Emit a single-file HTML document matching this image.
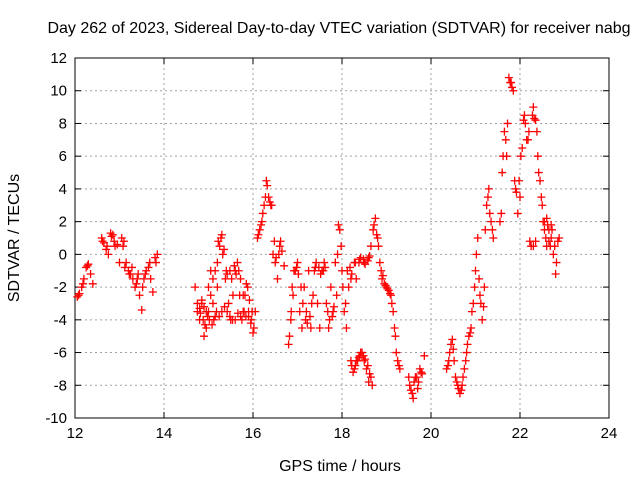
<!DOCTYPE html>
<html><head><meta charset="utf-8"><style>
body{margin:0;background:#fff;}
svg{display:block;font-family:"Liberation Sans",sans-serif;}
</style></head><body>
<svg id="chart" width="640" height="480" viewBox="0 0 640 480"></svg>
<script>
const xTicks=[12,14,16,18,20,22,24];
const yTicks=[12,10,8,6,4,2,0,-2,-4,-6,-8,-10];
const times=[12.05,12.1,12.15,12.2,12.25,12.3,12.35,12.4,12.6,12.65,12.7,12.75,12.8,12.85,12.9,12.95,13.0,13.05,13.1,13.15,13.2,13.25,13.3,13.35,13.4,13.45,13.5,13.55,13.6,13.65,13.7,13.75,13.8,13.85,
14.7,14.75,14.8,14.85,14.9,14.95,15.0,15.05,15.1,15.15,15.2,15.25,15.3,15.35,15.4,15.45,15.5,15.55,15.6,15.65,15.7,15.75,15.8,15.85,15.9,15.95,16.0,16.05,16.1,16.15,16.2,16.25,16.3,16.35,16.4,16.45,16.5,16.55,16.6,16.65,16.7,
16.8,16.85,16.9,16.95,17.0,17.05,17.1,17.15,17.2,17.25,17.3,17.35,17.4,17.45,17.5,17.55,17.6,17.65,17.7,17.75,17.8,17.85,17.9,17.95,18.0,18.05,18.1,18.15,18.2,18.25,18.3,18.35,18.4,18.45,18.5,18.55,18.6,18.65,
18.2,18.3,18.4,18.5,18.6,18.65,18.7,18.75,18.8,18.85,18.9,18.95,19.0,19.05,19.1,19.15,19.2,19.25,19.3,
19.5,19.55,19.6,19.65,19.7,19.75,19.8,19.85,
20.35,20.4,20.45,20.5,20.55,20.6,20.65,20.7,20.75,20.8,20.85,20.9,20.95,21.0,21.05,21.1,21.15,21.2,21.25,21.3,21.35,21.4,
21.55,21.6,21.65,21.7,21.75,21.8,21.85,21.9,21.95,22.0,22.05,22.1,22.15,22.2,22.25,22.3,22.35,22.4,22.45,22.5,22.55,22.6,22.65,22.7,22.75,22.8,22.85];
const values=[-2.6,-2.4,-2.0,-1.5,-0.8,-0.6,-1.2,-1.8,1.0,0.7,0.3,0.0,1.3,1.2,0.5,0.6,-0.5,1.0,0.8,-0.5,-1.0,-1.2,-1.5,-2.0,-1.5,-2.5,-3.4,-1.5,-1.0,-0.8,-1.5,-2.3,-0.2,0.0,
-2.0,-3.5,-4.0,-3.0,-5.0,-3.5,-2.0,-1.0,-3.0,-3.8,-2.0,0.5,1.2,0.3,-1.0,-3.0,-4.0,-2.5,-1.0,-0.5,-2.5,-4.0,-3.5,-1.8,-3.8,-4.2,-4.8,-3.5,1.0,1.5,2.0,3.0,4.5,3.5,3.0,0.0,-0.5,-1.5,0.5,0.2,-0.7,
-5.5,-4.0,-2.5,-1.0,-0.5,-3.5,-4.5,-2.0,-3.5,-1.0,-4.5,-2.5,-0.8,-3.0,-4.5,-1.0,-0.5,-3.0,-4.5,-2.0,-3.5,-0.5,0.0,1.5,-1.0,-3.5,-4.5,-2.0,-6.5,-7.2,-6.8,-6.5,-6.2,-6.0,-6.5,-7.0,-7.8,-7.5,
-1.5,-0.5,-0.3,-0.5,-0.2,0.5,1.5,2.2,1.0,-0.5,-1.5,-1.8,-2.0,-2.2,-2.5,-3.5,-5.0,-6.5,-7.0,
-7.5,-8.3,-8.8,-7.5,-8.2,-7.0,-7.3,-6.2,
-7.0,-6.5,-5.5,-5.8,-7.5,-8.0,-8.5,-8.0,-7.0,-6.0,-5.0,-4.5,-3.0,-1.0,1.0,-2.5,-4.0,-2.0,3.0,4.0,2.0,1.0,
2.0,5.0,7.5,6.0,10.8,10.5,10.0,4.0,2.5,3.5,6.5,8.5,7.0,7.5,0.5,9.0,8.2,6.0,4.5,3.0,2.0,0.5,1.5,1.0,0.0,-1.2,0.8];
const times2=[12.08,12.18,12.28,12.62,12.72,12.82,12.88,13.08,13.12,13.22,13.28,13.38,13.42,13.52,13.58,13.68,13.82,
14.75,14.8,14.85,14.9,14.95,15.0,15.05,15.1,15.15,15.2,15.22,15.28,15.32,15.38,15.42,15.48,15.52,15.58,15.62,15.68,15.72,15.78,15.82,15.88,15.92,15.98,
14.82,14.88,14.92,14.98,15.02,15.08,15.12,15.18,15.24,15.3,15.36,15.42,15.48,15.54,15.6,15.66,15.72,15.78,15.84,15.9,15.96,16.02,
16.12,16.18,16.22,16.28,16.32,16.38,16.42,16.48,16.52,16.58,16.62,
16.82,16.86,16.88,16.92,16.98,17.02,17.08,17.12,17.18,17.22,17.28,17.32,17.38,17.42,17.48,17.52,17.58,17.62,17.68,17.72,17.78,17.82,17.88,17.92,17.98,18.02,18.08,18.12,18.18,18.22,18.28,18.32,18.38,18.42,18.48,18.52,18.58,18.62,
18.22,18.28,18.32,18.38,18.42,18.48,18.52,18.58,18.62,18.68,
18.72,18.78,18.82,18.88,18.92,18.98,19.02,19.08,19.12,19.18,19.22,19.28,
19.52,19.58,19.62,19.68,19.72,19.78,
20.38,20.42,20.48,20.52,20.58,20.62,20.68,20.72,20.78,20.82,20.88,20.92,20.98,21.02,21.08,21.12,21.18,21.22,21.28,21.32,21.38,
21.58,21.62,21.68,21.72,21.78,21.82,21.88,21.92,21.98,22.02,22.08,22.12,22.18,22.22,22.28,22.32,22.38,22.42,22.48,22.52,22.58,22.62,22.68,22.72,22.78,22.82,22.88,22.55,22.6,22.65,22.7,22.3,22.35];
const values2=[-2.5,-1.8,-0.7,0.8,0.5,1.1,0.8,0.5,-0.8,-1.2,-0.8,-1.8,-1.2,-2.0,-1.2,-0.5,-0.5,
-3.0,-3.3,-2.8,-3.2,-4.5,-3.5,-2.5,-1.5,-1.0,-0.5,0.8,1.0,0.0,-1.5,-1.2,-1.0,-1.5,-0.7,-1.2,-1.0,-1.5,-2.5,-2.5,-2.0,-2.8,-3.5,
-3.6,-4.0,-4.3,-3.8,-4.0,-4.3,-4.0,-3.5,-3.8,-3.5,-3.2,-3.5,-3.8,-4.0,-4.0,-3.6,-3.8,-3.5,-3.8,-3.5,-4.0,-4.5,
1.2,1.8,2.5,3.5,4.2,3.2,3.0,0.8,-0.2,0.0,0.8,
-5.0,-3.5,-2.0,-1.0,-0.8,-1.2,-2.0,-3.0,-4.0,-4.2,-3.8,-3.0,-1.0,-0.5,-0.8,-1.2,-1.0,-0.8,-3.5,-4.0,-3.8,-3.2,-2.5,1.8,0.5,-2.0,-3.0,-1.0,-0.8,-1.2,-0.5,-1.5,-0.5,-0.2,-0.3,-0.6,-0.4,-0.1,
-6.8,-7.0,-6.5,-6.3,-6.0,-6.2,-6.4,-6.8,-7.3,-8.0,
1.8,1.2,0.5,-1.0,-1.3,-1.9,-2.1,-2.4,-3.0,-4.5,-6.0,-6.8,
-8.0,-8.5,-7.8,-7.5,-7.8,-7.2,
-6.8,-6.0,-5.2,-6.5,-7.8,-8.2,-8.3,-7.5,-6.5,-5.5,-4.8,-3.5,-2.0,0.0,-1.5,-3.0,-3.2,1.5,3.5,2.5,1.5,
2.5,6.0,7.0,8.0,10.5,10.2,4.5,3.8,4.5,6.0,8.2,8.0,7.0,0.8,8.5,8.3,7.5,5.0,3.5,2.0,1.0,1.8,0.5,1.5,0.5,-0.5,1.0,1.5,2.2,0.8,1.8,0.5,0.8];

const L=75,R=609,T=58,B=418;
const sx=v=>L+(v-12)/(24-12)*(R-L);
const sy=v=>T+(12-v)/(12-(-10))*(B-T);
const svg=document.getElementById('chart');
const NS='http://www.w3.org/2000/svg';
function mk(tag,attrs,parent){const e=document.createElementNS(NS,tag);for(const k in attrs)e.setAttribute(k,attrs[k]);(parent||svg).appendChild(e);return e;}

xTicks.forEach(t=>{
  const x=sx(t);
  if(t>12&&t<24){const g=mk('line',{x1:x,x2:x,y1:T,y2:B,stroke:'#a0a0a0','stroke-dasharray':'2,3','stroke-width':1});
  
  }
  mk('line',{x1:x,x2:x,y1:B,y2:B-6,stroke:'#000'});
  mk('line',{x1:x,x2:x,y1:T,y2:T+6,stroke:'#000'});
  const lb=mk('text',{x:x,y:B+20,'text-anchor':'middle','font-size':15});
  lb.textContent=t;
  
  
});
yTicks.forEach(t=>{
  const y=sy(t);
  if(t>-10&&t<12){const g=mk('line',{x1:L,x2:R,y1:y,y2:y,stroke:'#a0a0a0','stroke-dasharray':'2,3','stroke-width':1});
  
  }
  mk('line',{x1:L,x2:L+6,y1:y,y2:y,stroke:'#000'});
  mk('line',{x1:R,x2:R-6,y1:y,y2:y,stroke:'#000'});
  const lb=mk('text',{x:L-8,y:y+5,'text-anchor':'end','font-size':15});
  lb.textContent=t;
  
  
});
const frame=mk('rect',{x:L,y:T,width:R-L,height:B-T,fill:'none',stroke:'#000'});



const pts=mk('g',{stroke:'#ff0000','stroke-width':1.3});


const allT=times.concat(times2), allV=values.concat(values2);
for(let i=0;i<allT.length;i++){
  const x=sx(allT[i]),y=sy(allV[i]);
  const p=mk('path',{d:`M${x-4},${y}H${x+4}M${x},${y-4}V${y+4}`},pts);
  
  
}

const title=mk('text',{x:339,y:33,'text-anchor':'middle','font-size':16});
title.textContent='Day 262 of 2023, Sidereal Day-to-day VTEC variation (SDTVAR) for receiver nabg';


const xl=mk('text',{x:340,y:471,'text-anchor':'middle','font-size':16});
xl.textContent='GPS time / hours';


const yl=mk('text',{x:19,y:238,'text-anchor':'middle','font-size':16,transform:'rotate(-90 19 238)'});
yl.textContent='SDTVAR / TECUs';


</script>
</body></html>
